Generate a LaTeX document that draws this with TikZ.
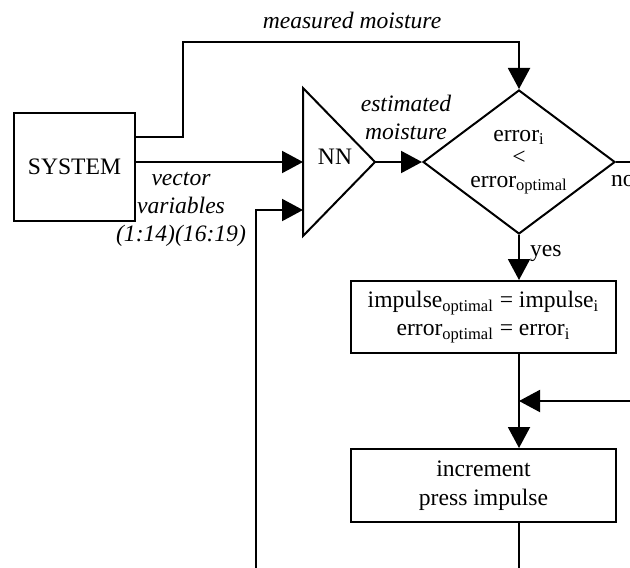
\documentclass[tikz,border=0pt]{standalone}
\usepackage{fontspec}
\setmainfont{Liberation Serif}
\usetikzlibrary{arrows.meta,shapes.geometric}

\begin{document}
\begin{tikzpicture}[x=0.5pt,y=-0.5pt,line width=1pt,
	font=\fontsize{11.8}{14.2}\selectfont,
	box/.style={draw,rectangle,inner sep=0pt,align=center},
	arr/.style={-{Triangle[length=10.5pt,width=11pt]}},
	lab/.style={font=\fontsize{11.8}{14}\selectfont\itshape,align=center,inner sep=0pt}]
	\def\xline{519}
	\useasboundingbox (0,0) rectangle (630,567);
	\clip (0,0) rectangle (630,567);

	% blocks
	\node[box,minimum width=60.5pt,minimum height=54pt] (sys) at (74.5,167) {SYSTEM};
	\draw (303,88) -- (375,162) -- (303,236) -- cycle;
	\coordinate (nnin1) at (303,162);
	\coordinate (nnin2) at (303,210);
	\coordinate (nnout) at (375,162);
	\node[inner sep=0pt] (nn) at (335,157) {NN};
	\node[draw,diamond,aspect=1.333,minimum width=96pt,minimum height=72pt,inner sep=0pt,
		align=center,font=\fontsize{11.8}{11.5}\selectfont] (cmp) at (\xline,162)
		{error\textsubscript{i}\\<\\error\textsubscript{optimal}};
	\node[box,minimum width=132.5pt,minimum height=36pt] (upd) at (483.5,317)
		{impulse\textsubscript{optimal} = impulse\textsubscript{i}\\error\textsubscript{optimal} = error\textsubscript{i}};
	\node[box,minimum width=132.5pt,minimum height=36.5pt] (inc) at (483.5,485.5)
		{increment\\press impulse};

	% labels
	\node[lab] (meas) at (352,20) {measured moisture};
	\node[lab] (est) at (406,117) {estimated\\moisture};
	\node[lab] (vec) at (181,209) {vector\\variables\\(1:14)(16:19)};
	\node[inner sep=0pt,anchor=west] (yes) at (529,253) {yes};
	\node[inner sep=0pt,anchor=west] (no) at (610,181) {no};

	% connectors
	\coordinate (top) at (183,42);
	\coordinate (noend) at (650,162);
	\coordinate (join) at (\xline,401);
	\coordinate (loopin) at (650,401);
	\coordinate (down) at (\xline,590);
	\coordinate (back) at (256,590);
	\draw[arr] ([yshift=15pt]sys.east) -| (top) -| (cmp.north);
	\draw[arr] (sys.east |- nnin1) -- (nnin1);
	\draw[arr] (back) |- (nnin2);
	\draw[arr] (nnout) -- (nnout -| cmp.west);
	\draw (cmp.east) -- (noend);
	\draw[arr] (cmp.south) -- (cmp.south |- upd.north);
	\draw[arr] (cmp.south |- upd.south) -- (cmp.south |- inc.north);
	\draw[arr] (loopin) -- (join);
	\draw (cmp.south |- inc.south) -- (down);
\end{tikzpicture}
\end{document}
